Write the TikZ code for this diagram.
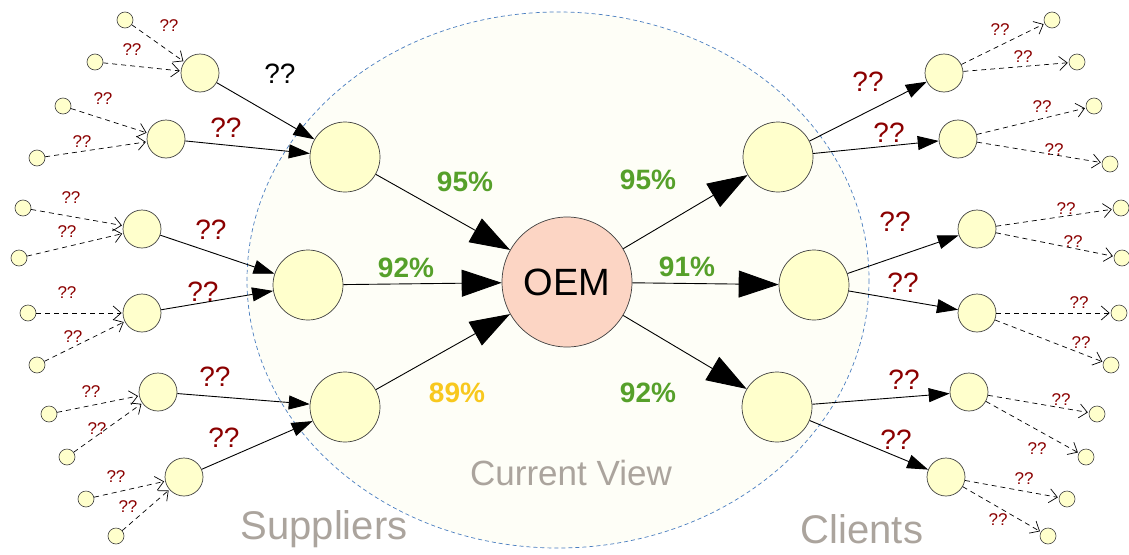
\documentclass[tikz,border=0pt]{standalone}
\usepackage{fontspec}
\setmainfont{Liberation Sans}
\usetikzlibrary{arrows.meta}
\definecolor{nodefill}{HTML}{FFFFCC}
\definecolor{oemfill}{HTML}{FCD5C4}
\definecolor{viewfill}{HTML}{FEFEF7}
\definecolor{viewline}{HTML}{4A7EC0}
\definecolor{qred}{HTML}{8B0000}
\definecolor{pgreen}{HTML}{56A02A}
\definecolor{pyellow}{HTML}{F8C81E}
\definecolor{txtgray}{HTML}{ABA49D}
\tikzset{
  bignode/.style={circle, draw=black!75, line width=0.7pt, fill=nodefill, minimum size=70pt, inner sep=0pt},
  midnode/.style={circle, draw=black!75, line width=0.7pt, fill=nodefill, minimum size=38pt, inner sep=0pt},
  smallnode/.style={circle, draw=black!75, line width=0.6pt, fill=nodefill, minimum size=16pt, inner sep=0pt},
  oemnode/.style={circle, draw=black!75, line width=0.7pt, fill=oemfill, minimum size=130pt, inner sep=0pt, font=\fontsize{38}{40}\selectfont},
  mainarrow/.style={line width=0.9pt, -{Triangle[length=40pt,width=27pt]}},
  tierarrow/.style={line width=0.9pt, -{Triangle[length=21pt,width=14pt]}},
  dasharrow/.style={line width=0.7pt, dash pattern=on 5pt off 4pt, -{Straight Barb[length=8pt,width=14pt]}, shorten >=1pt},
  biglab/.style={text=qred, font=\fontsize{28}{30}\selectfont},
  smalllab/.style={text=qred, font=\fontsize{17}{18}\selectfont},
  pct/.style={font=\bfseries\fontsize{28}{30}\selectfont}
}
\begin{document}
\begin{tikzpicture}[x=1pt,y=-1pt]
\useasboundingbox (0,0) rectangle (1129,554);
\fill[white] (0,0) rectangle (1129,554);
% current view
\draw[viewline, fill=viewfill, line width=0.7pt, dash pattern=on 4pt off 3pt] (558,280) ellipse [x radius=311, y radius=268];
\node[text=txtgray, font=\fontsize{35}{37}\selectfont] (cv) at (571,473) {Current View};
\node[text=txtgray, font=\fontsize{40}{42}\selectfont] (sup) at (324,529) {Suppliers};
\node[text=txtgray, font=\fontsize{40}{42}\selectfont] (cli) at (862,529) {Clients};

% OEM
\node[oemnode] (oem) at (567,282) {OEM};
% tier 1
\node[bignode] (L1) at (345,157) {};
\node[bignode] (L2) at (308,285) {};
\node[bignode] (L3) at (345,407) {};
\node[bignode] (R1) at (778,157) {};
\node[bignode] (R2) at (814,285) {};
\node[bignode] (R3) at (777,407) {};
% tier 2
\node[midnode] (A) at (200,73) {};
\node[midnode] (B) at (166,139) {};
\node[midnode] (C) at (142,229) {};
\node[midnode] (D) at (142,313) {};
\node[midnode] (E) at (158,392) {};
\node[midnode] (F) at (184,477) {};
\node[midnode] (G) at (944,73) {};
\node[midnode] (H) at (958,139) {};
\node[midnode] (I) at (977,229) {};
\node[midnode] (J) at (977,313) {};
\node[midnode] (K) at (969,392) {};
\node[midnode] (M) at (946,477) {};
% tier 3
\node[smallnode] (a1) at (125,20) {};
\node[smallnode] (a2) at (95,62) {};
\node[smallnode] (b1) at (63,106) {};
\node[smallnode] (b2) at (37,158) {};
\node[smallnode] (c1) at (23,208) {};
\node[smallnode] (c2) at (19,258) {};
\node[smallnode] (d1) at (28,313) {};
\node[smallnode] (d2) at (37,365) {};
\node[smallnode] (e1) at (49,414) {};
\node[smallnode] (e2) at (67,457) {};
\node[smallnode] (f1) at (86,499) {};
\node[smallnode] (f2) at (116,536) {};
\node[smallnode] (g1) at (1052,20) {};
\node[smallnode] (g2) at (1077,62) {};
\node[smallnode] (h1) at (1094,106) {};
\node[smallnode] (h2) at (1110,164) {};
\node[smallnode] (i1) at (1121,208) {};
\node[smallnode] (i2) at (1122,258) {};
\node[smallnode] (j1) at (1119,313) {};
\node[smallnode] (j2) at (1111,365) {};
\node[smallnode] (k1) at (1097,414) {};
\node[smallnode] (k2) at (1086,457) {};
\node[smallnode] (m1) at (1067,499) {};
\node[smallnode] (m2) at (1048,536) {};

% main arrows
\draw[mainarrow] (L1) -- (oem);
\draw[mainarrow] (L2) -- (oem);
\draw[mainarrow] (L3) -- (oem);
\draw[mainarrow] (oem) -- (R1);
\draw[mainarrow] (oem) -- (R2);
\draw[mainarrow] (oem) -- (R3);
% tier arrows
\draw[tierarrow] (A) -- (L1);
\draw[tierarrow] (B) -- (L1);
\draw[tierarrow] (C) -- (L2);
\draw[tierarrow] (D) -- (L2);
\draw[tierarrow] (E) -- (L3);
\draw[tierarrow] (F) -- (L3);
\draw[tierarrow] (R1) -- (G);
\draw[tierarrow] (R1) -- (H);
\draw[tierarrow] (R2) -- (I);
\draw[tierarrow] (R2) -- (J);
\draw[tierarrow] (R3) -- (K);
\draw[tierarrow] (R3) -- (M);
% dashed arrows
\draw[dasharrow] (a1) -- (A);
\draw[dasharrow] (a2) -- (A);
\draw[dasharrow] (b1) -- (B);
\draw[dasharrow] (b2) -- (B);
\draw[dasharrow] (c1) -- (C);
\draw[dasharrow] (c2) -- (C);
\draw[dasharrow] (d1) -- (D);
\draw[dasharrow] (d2) -- (D);
\draw[dasharrow] (e1) -- (E);
\draw[dasharrow] (e2) -- (E);
\draw[dasharrow] (f1) -- (F);
\draw[dasharrow] (f2) -- (F);
\draw[dasharrow] (G) -- (g1);
\draw[dasharrow] (G) -- (g2);
\draw[dasharrow] (H) -- (h1);
\draw[dasharrow] (H) -- (h2);
\draw[dasharrow] (I) -- (i1);
\draw[dasharrow] (I) -- (i2);
\draw[dasharrow] (J) -- (j1);
\draw[dasharrow] (J) -- (j2);
\draw[dasharrow] (K) -- (k1);
\draw[dasharrow] (K) -- (k2);
\draw[dasharrow] (M) -- (m1);
\draw[dasharrow] (M) -- (m2);

% percentages
\node[pct, text=pgreen] (p1) at (465,182) {95\%};
\node[pct, text=pgreen] (p2) at (406,268) {92\%};
\node[pct, text=pyellow] (p3) at (457,393) {89\%};
\node[pct, text=pgreen] (p4) at (648,180) {95\%};
\node[pct, text=pgreen] (p5) at (687,267) {91\%};
\node[pct, text=pgreen] (p6) at (648,393) {92\%};

% big ?? labels
\node[biglab, text=black] (qA) at (280,74) {??};
\node[biglab] (qB) at (226,128) {??};
\node[biglab] (qC) at (211,230) {??};
\node[biglab] (qD) at (203,292) {??};
\node[biglab] (qE) at (215,377) {??};
\node[biglab] (qF) at (224,438) {??};
\node[biglab] (qG) at (868,82) {??};
\node[biglab] (qH) at (889,133) {??};
\node[biglab] (qI) at (895,222) {??};
\node[biglab] (qJ) at (903,283) {??};
\node[biglab] (qK) at (904,380) {??};
\node[biglab] (qM) at (896,440) {??};

% small ?? labels
\node[smalllab] (sa1) at (169,26) {??};
\node[smalllab] (sa2) at (132,50) {??};
\node[smalllab] (sb1) at (103,99) {??};
\node[smalllab] (sb2) at (82,142) {??};
\node[smalllab] (sc1) at (71,198) {??};
\node[smalllab] (sc2) at (67,232) {??};
\node[smalllab] (sd1) at (67,293) {??};
\node[smalllab] (sd2) at (73,337) {??};
\node[smalllab] (se1) at (91,392) {??};
\node[smalllab] (se2) at (97,429) {??};
\node[smalllab] (sf1) at (116,477) {??};
\node[smalllab] (sf2) at (128,507) {??};
\node[smalllab] (sg1) at (1000,30) {??};
\node[smalllab] (sg2) at (1023,57) {??};
\node[smalllab] (sh1) at (1042,107) {??};
\node[smalllab] (sh2) at (1054,150) {??};
\node[smalllab] (si1) at (1066,209) {??};
\node[smalllab] (si2) at (1073,242) {??};
\node[smalllab] (sj1) at (1079,303) {??};
\node[smalllab] (sj2) at (1081,343) {??};
\node[smalllab] (sk1) at (1061,400) {??};
\node[smalllab] (sk2) at (1037,449) {??};
\node[smalllab] (sm1) at (1024,479) {??};
\node[smalllab] (sm2) at (998,520) {??};
\end{tikzpicture}
\end{document}
